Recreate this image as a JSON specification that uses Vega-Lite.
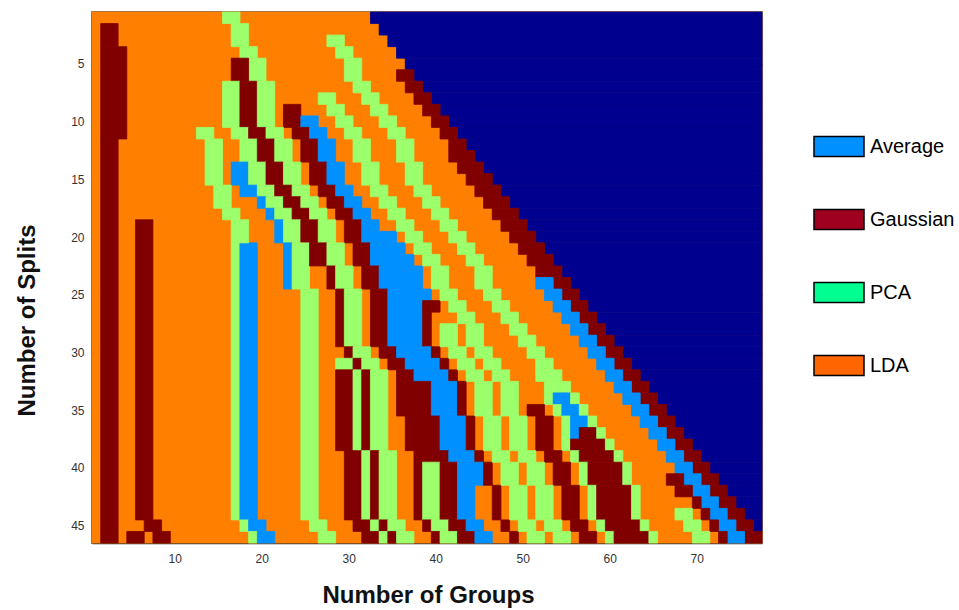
{"$schema":"https://vega.github.io/schema/vega-lite/v6.json","width":670,"height":531,"autosize":{"type":"none"},"padding":{"left":92,"top":12,"right":197,"bottom":67},"background":"white","view":{"stroke":"#444444","strokeWidth":1.5},"layer":[{"data":{"values":[
{"a":0.5,"b":77.5,"c":0.5,"d":46.5,"m":"L"},
{"a":32.5,"b":77.5,"c":0.5,"d":1.5,"m":"N"},{"a":33.5,"b":77.5,"c":1.5,"d":2.5,"m":"N"},{"a":34.5,"b":77.5,"c":2.5,"d":3.5,"m":"N"},{"a":35.5,"b":77.5,"c":3.5,"d":4.5,"m":"N"},{"a":36.5,"b":77.5,"c":4.5,"d":5.5,"m":"N"},{"a":37.5,"b":77.5,"c":5.5,"d":6.5,"m":"N"},{"a":38.5,"b":77.5,"c":6.5,"d":7.5,"m":"N"},{"a":39.5,"b":77.5,"c":7.5,"d":8.5,"m":"N"},{"a":40.5,"b":77.5,"c":8.5,"d":9.5,"m":"N"},{"a":41.5,"b":77.5,"c":9.5,"d":10.5,"m":"N"},{"a":42.5,"b":77.5,"c":10.5,"d":11.5,"m":"N"},{"a":43.5,"b":77.5,"c":11.5,"d":12.5,"m":"N"},{"a":44.5,"b":77.5,"c":12.5,"d":13.5,"m":"N"},{"a":45.5,"b":77.5,"c":13.5,"d":14.5,"m":"N"},{"a":46.5,"b":77.5,"c":14.5,"d":15.5,"m":"N"},{"a":47.5,"b":77.5,"c":15.5,"d":16.5,"m":"N"},{"a":48.5,"b":77.5,"c":16.5,"d":17.5,"m":"N"},{"a":49.5,"b":77.5,"c":17.5,"d":18.5,"m":"N"},{"a":50.5,"b":77.5,"c":18.5,"d":19.5,"m":"N"},{"a":51.5,"b":77.5,"c":19.5,"d":20.5,"m":"N"},{"a":52.5,"b":77.5,"c":20.5,"d":21.5,"m":"N"},{"a":53.5,"b":77.5,"c":21.5,"d":22.5,"m":"N"},{"a":54.5,"b":77.5,"c":22.5,"d":23.5,"m":"N"},{"a":55.5,"b":77.5,"c":23.5,"d":24.5,"m":"N"},{"a":56.5,"b":77.5,"c":24.5,"d":25.5,"m":"N"},{"a":57.5,"b":77.5,"c":25.5,"d":26.5,"m":"N"},{"a":58.5,"b":77.5,"c":26.5,"d":27.5,"m":"N"},{"a":59.5,"b":77.5,"c":27.5,"d":28.5,"m":"N"},{"a":60.5,"b":77.5,"c":28.5,"d":29.5,"m":"N"},{"a":61.5,"b":77.5,"c":29.5,"d":30.5,"m":"N"},{"a":62.5,"b":77.5,"c":30.5,"d":31.5,"m":"N"},{"a":63.5,"b":77.5,"c":31.5,"d":32.5,"m":"N"},{"a":64.5,"b":77.5,"c":32.5,"d":33.5,"m":"N"},{"a":65.5,"b":77.5,"c":33.5,"d":34.5,"m":"N"},{"a":66.5,"b":77.5,"c":34.5,"d":35.5,"m":"N"},{"a":67.5,"b":77.5,"c":35.5,"d":36.5,"m":"N"},{"a":68.5,"b":77.5,"c":36.5,"d":37.5,"m":"N"},{"a":69.5,"b":77.5,"c":37.5,"d":38.5,"m":"N"},{"a":70.5,"b":77.5,"c":38.5,"d":39.5,"m":"N"},{"a":71.5,"b":77.5,"c":39.5,"d":40.5,"m":"N"},{"a":72.5,"b":77.5,"c":40.5,"d":41.5,"m":"N"},{"a":73.5,"b":77.5,"c":41.5,"d":42.5,"m":"N"},{"a":74.5,"b":77.5,"c":42.5,"d":43.5,"m":"N"},{"a":75.5,"b":77.5,"c":43.5,"d":44.5,"m":"N"},{"a":76.5,"b":77.5,"c":44.5,"d":45.5,"m":"N"},
{"a":1.5,"b":3.5,"c":1.5,"d":3.5,"m":"G"},{"a":1.5,"b":4.5,"c":3.5,"d":11.5,"m":"G"},{"a":1.5,"b":3.5,"c":11.5,"d":46.5,"m":"G"},
{"a":5.5,"b":7.5,"c":18.5,"d":44.5,"m":"G"},{"a":6.5,"b":8.5,"c":44.5,"d":45.5,"m":"G"},{"a":4.5,"b":6.5,"c":45.5,"d":46.5,"m":"G"},{"a":7.5,"b":9.5,"c":45.5,"d":46.5,"m":"G"},
{"a":16.5,"b":17.5,"c":20.5,"d":44.5,"m":"P"},{"a":17.5,"b":19.5,"c":20.5,"d":44.5,"m":"A"},{"a":17.5,"b":18.5,"c":44.5,"d":45.5,"m":"P"},{"a":18.5,"b":20.5,"c":44.5,"d":45.5,"m":"A"},{"a":18.5,"b":19.5,"c":45.5,"d":46.5,"m":"P"},{"a":19.5,"b":21.5,"c":45.5,"d":46.5,"m":"A"},
{"a":24.5,"b":26.5,"c":24.5,"d":44.5,"m":"P"},{"a":25.5,"b":27.5,"c":44.5,"d":45.5,"m":"P"},{"a":26.5,"b":28.5,"c":45.5,"d":46.5,"m":"P"},
{"a":15.5,"b":17.5,"c":0.5,"d":1.5,"m":"P"},{"a":16.5,"b":18.5,"c":1.5,"d":3.5,"m":"P"},{"a":17.5,"b":19.5,"c":3.5,"d":4.5,"m":"P"},{"a":18.5,"b":20.5,"c":4.5,"d":6.5,"m":"P"},{"a":16.5,"b":18.5,"c":4.5,"d":6.5,"m":"G"},{"a":15.5,"b":17.5,"c":6.5,"d":10.5,"m":"P"},{"a":17.5,"b":19.5,"c":6.5,"d":10.5,"m":"G"},{"a":19.5,"b":21.5,"c":6.5,"d":10.5,"m":"P"},{"a":22.5,"b":24.5,"c":8.5,"d":10.5,"m":"G"},{"a":24.5,"b":26.5,"c":9.5,"d":10.5,"m":"A"},
{"a":12.5,"b":14.5,"c":10.5,"d":11.5,"m":"P"},{"a":16.5,"b":18.5,"c":10.5,"d":11.5,"m":"P"},{"a":18.5,"b":20.5,"c":10.5,"d":11.5,"m":"G"},{"a":20.5,"b":22.5,"c":10.5,"d":11.5,"m":"P"},{"a":23.5,"b":25.5,"c":10.5,"d":11.5,"m":"G"},{"a":25.5,"b":27.5,"c":10.5,"d":11.5,"m":"A"},
{"a":13.5,"b":15.5,"c":11.5,"d":15.5,"m":"P"},{"a":17.5,"b":19.5,"c":11.5,"d":13.5,"m":"P"},{"a":19.5,"b":21.5,"c":11.5,"d":13.5,"m":"G"},{"a":21.5,"b":23.5,"c":11.5,"d":13.5,"m":"P"},{"a":24.5,"b":26.5,"c":11.5,"d":13.5,"m":"G"},{"a":26.5,"b":28.5,"c":11.5,"d":13.5,"m":"A"},
{"a":16.5,"b":18.5,"c":13.5,"d":15.5,"m":"A"},{"a":18.5,"b":20.5,"c":13.5,"d":15.5,"m":"P"},{"a":20.5,"b":22.5,"c":13.5,"d":15.5,"m":"G"},{"a":22.5,"b":24.5,"c":13.5,"d":15.5,"m":"P"},{"a":25.5,"b":27.5,"c":13.5,"d":15.5,"m":"G"},{"a":27.5,"b":29.5,"c":13.5,"d":15.5,"m":"A"},
{"a":14.5,"b":16.5,"c":15.5,"d":17.5,"m":"P"},{"a":17.5,"b":19.5,"c":15.5,"d":16.5,"m":"A"},{"a":19.5,"b":21.5,"c":15.5,"d":16.5,"m":"P"},{"a":21.5,"b":23.5,"c":15.5,"d":16.5,"m":"G"},{"a":23.5,"b":25.5,"c":15.5,"d":16.5,"m":"P"},{"a":26.5,"b":28.5,"c":15.5,"d":16.5,"m":"G"},{"a":28.5,"b":30.5,"c":15.5,"d":16.5,"m":"A"},
{"a":19.5,"b":20.5,"c":16.5,"d":17.5,"m":"A"},{"a":20.5,"b":22.5,"c":16.5,"d":17.5,"m":"P"},{"a":22.5,"b":24.5,"c":16.5,"d":17.5,"m":"G"},{"a":24.5,"b":26.5,"c":16.5,"d":17.5,"m":"P"},{"a":27.5,"b":29.5,"c":16.5,"d":17.5,"m":"G"},{"a":29.5,"b":31.5,"c":16.5,"d":17.5,"m":"A"},
{"a":15.5,"b":17.5,"c":17.5,"d":18.5,"m":"P"},{"a":20.5,"b":21.5,"c":17.5,"d":18.5,"m":"A"},{"a":21.5,"b":23.5,"c":17.5,"d":18.5,"m":"P"},{"a":23.5,"b":25.5,"c":17.5,"d":18.5,"m":"G"},{"a":25.5,"b":27.5,"c":17.5,"d":18.5,"m":"P"},{"a":28.5,"b":30.5,"c":17.5,"d":18.5,"m":"G"},{"a":30.5,"b":32.5,"c":17.5,"d":18.5,"m":"A"},
{"a":16.5,"b":18.5,"c":18.5,"d":20.5,"m":"P"},{"a":21.5,"b":22.5,"c":18.5,"d":20.5,"m":"A"},{"a":22.5,"b":24.5,"c":18.5,"d":20.5,"m":"P"},{"a":24.5,"b":26.5,"c":18.5,"d":20.5,"m":"G"},{"a":26.5,"b":28.5,"c":18.5,"d":20.5,"m":"P"},{"a":29.5,"b":31.5,"c":18.5,"d":20.5,"m":"G"},{"a":31.5,"b":33.5,"c":18.5,"d":19.5,"m":"A"},{"a":31.5,"b":35.5,"c":19.5,"d":20.5,"m":"A"},
{"a":22.5,"b":23.5,"c":20.5,"d":24.5,"m":"A"},{"a":23.5,"b":25.5,"c":20.5,"d":24.5,"m":"P"},{"a":25.5,"b":27.5,"c":20.5,"d":22.5,"m":"G"},{"a":27.5,"b":29.5,"c":20.5,"d":22.5,"m":"P"},{"a":30.5,"b":32.5,"c":20.5,"d":22.5,"m":"G"},{"a":32.5,"b":36.5,"c":20.5,"d":21.5,"m":"A"},{"a":32.5,"b":37.5,"c":21.5,"d":22.5,"m":"A"},
{"a":27.5,"b":28.5,"c":22.5,"d":24.5,"m":"G"},{"a":28.5,"b":30.5,"c":22.5,"d":24.5,"m":"P"},{"a":31.5,"b":33.5,"c":22.5,"d":24.5,"m":"G"},{"a":33.5,"b":38.5,"c":22.5,"d":24.5,"m":"A"},
{"a":28.5,"b":29.5,"c":24.5,"d":29.5,"m":"G"},{"a":29.5,"b":31.5,"c":24.5,"d":29.5,"m":"P"},{"a":32.5,"b":34.5,"c":24.5,"d":29.5,"m":"G"},{"a":34.5,"b":39.5,"c":24.5,"d":25.5,"m":"A"},{"a":34.5,"b":38.5,"c":25.5,"d":29.5,"m":"A"},{"a":38.5,"b":40.5,"c":25.5,"d":26.5,"m":"G"},{"a":38.5,"b":39.5,"c":26.5,"d":29.5,"m":"G"},
{"a":29.5,"b":30.5,"c":29.5,"d":30.5,"m":"G"},{"a":30.5,"b":32.5,"c":29.5,"d":30.5,"m":"P"},{"a":33.5,"b":35.5,"c":29.5,"d":30.5,"m":"G"},{"a":35.5,"b":39.5,"c":29.5,"d":30.5,"m":"A"},{"a":39.5,"b":40.5,"c":29.5,"d":30.5,"m":"G"},
{"a":28.5,"b":30.5,"c":30.5,"d":31.5,"m":"P"},{"a":30.5,"b":31.5,"c":30.5,"d":31.5,"m":"G"},{"a":31.5,"b":33.5,"c":30.5,"d":31.5,"m":"P"},{"a":34.5,"b":36.5,"c":30.5,"d":31.5,"m":"G"},{"a":36.5,"b":40.5,"c":30.5,"d":31.5,"m":"A"},{"a":40.5,"b":41.5,"c":30.5,"d":31.5,"m":"G"},
{"a":28.5,"b":30.5,"c":31.5,"d":38.5,"m":"G"},{"a":30.5,"b":31.5,"c":31.5,"d":38.5,"m":"P"},{"a":31.5,"b":32.5,"c":31.5,"d":38.5,"m":"G"},{"a":32.5,"b":34.5,"c":31.5,"d":38.5,"m":"P"},
{"a":35.5,"b":37.5,"c":31.5,"d":32.5,"m":"G"},{"a":37.5,"b":41.5,"c":31.5,"d":32.5,"m":"A"},{"a":41.5,"b":42.5,"c":31.5,"d":32.5,"m":"G"},
{"a":35.5,"b":39.5,"c":32.5,"d":35.5,"m":"G"},{"a":39.5,"b":42.5,"c":32.5,"d":35.5,"m":"A"},{"a":42.5,"b":43.5,"c":32.5,"d":35.5,"m":"G"},
{"a":36.5,"b":40.5,"c":35.5,"d":38.5,"m":"G"},{"a":40.5,"b":43.5,"c":35.5,"d":38.5,"m":"A"},{"a":43.5,"b":44.5,"c":35.5,"d":38.5,"m":"G"},
{"a":29.5,"b":31.5,"c":38.5,"d":44.5,"m":"G"},{"a":31.5,"b":32.5,"c":38.5,"d":44.5,"m":"P"},{"a":32.5,"b":33.5,"c":38.5,"d":44.5,"m":"G"},{"a":33.5,"b":35.5,"c":38.5,"d":44.5,"m":"P"},
{"a":30.5,"b":32.5,"c":44.5,"d":45.5,"m":"G"},{"a":32.5,"b":33.5,"c":44.5,"d":45.5,"m":"P"},{"a":33.5,"b":34.5,"c":44.5,"d":45.5,"m":"G"},{"a":34.5,"b":36.5,"c":44.5,"d":45.5,"m":"P"},
{"a":31.5,"b":33.5,"c":45.5,"d":46.5,"m":"G"},{"a":33.5,"b":34.5,"c":45.5,"d":46.5,"m":"P"},{"a":34.5,"b":35.5,"c":45.5,"d":46.5,"m":"G"},{"a":35.5,"b":37.5,"c":45.5,"d":46.5,"m":"P"},
{"a":37.5,"b":41.5,"c":38.5,"d":39.5,"m":"G"},{"a":41.5,"b":44.5,"c":38.5,"d":39.5,"m":"A"},{"a":44.5,"b":45.5,"c":38.5,"d":39.5,"m":"G"},
{"a":37.5,"b":38.5,"c":39.5,"d":44.5,"m":"G"},{"a":38.5,"b":40.5,"c":39.5,"d":44.5,"m":"P"},{"a":40.5,"b":42.5,"c":39.5,"d":44.5,"m":"G"},{"a":42.5,"b":45.5,"c":39.5,"d":41.5,"m":"A"},{"a":45.5,"b":46.5,"c":39.5,"d":41.5,"m":"G"},{"a":42.5,"b":44.5,"c":41.5,"d":44.5,"m":"A"},{"a":46.5,"b":47.5,"c":41.5,"d":44.5,"m":"G"},
{"a":38.5,"b":39.5,"c":44.5,"d":45.5,"m":"G"},{"a":39.5,"b":41.5,"c":44.5,"d":45.5,"m":"P"},{"a":41.5,"b":43.5,"c":44.5,"d":45.5,"m":"G"},{"a":43.5,"b":45.5,"c":44.5,"d":45.5,"m":"A"},{"a":47.5,"b":48.5,"c":44.5,"d":45.5,"m":"G"},
{"a":39.5,"b":40.5,"c":45.5,"d":46.5,"m":"G"},{"a":40.5,"b":42.5,"c":45.5,"d":46.5,"m":"P"},{"a":42.5,"b":44.5,"c":45.5,"d":46.5,"m":"G"},{"a":44.5,"b":46.5,"c":45.5,"d":46.5,"m":"A"},{"a":48.5,"b":49.5,"c":45.5,"d":46.5,"m":"G"},
{"a":27.5,"b":29.5,"c":2.5,"d":3.5,"m":"P"},{"a":28.5,"b":30.5,"c":3.5,"d":4.5,"m":"P"},{"a":29.5,"b":31.5,"c":4.5,"d":6.5,"m":"P"},{"a":30.5,"b":32.5,"c":6.5,"d":7.5,"m":"P"},{"a":31.5,"b":33.5,"c":7.5,"d":8.5,"m":"P"},{"a":32.5,"b":34.5,"c":8.5,"d":9.5,"m":"P"},{"a":33.5,"b":35.5,"c":9.5,"d":10.5,"m":"P"},{"a":34.5,"b":36.5,"c":10.5,"d":11.5,"m":"P"},{"a":35.5,"b":37.5,"c":11.5,"d":13.5,"m":"P"},{"a":36.5,"b":38.5,"c":13.5,"d":15.5,"m":"P"},{"a":37.5,"b":39.5,"c":15.5,"d":16.5,"m":"P"},{"a":38.5,"b":40.5,"c":16.5,"d":17.5,"m":"P"},{"a":39.5,"b":41.5,"c":17.5,"d":18.5,"m":"P"},{"a":40.5,"b":42.5,"c":18.5,"d":19.5,"m":"P"},{"a":41.5,"b":43.5,"c":19.5,"d":20.5,"m":"P"},{"a":42.5,"b":44.5,"c":20.5,"d":21.5,"m":"P"},{"a":43.5,"b":45.5,"c":21.5,"d":22.5,"m":"P"},{"a":44.5,"b":46.5,"c":22.5,"d":24.5,"m":"P"},{"a":45.5,"b":47.5,"c":24.5,"d":25.5,"m":"P"},{"a":46.5,"b":48.5,"c":25.5,"d":26.5,"m":"P"},{"a":47.5,"b":49.5,"c":26.5,"d":27.5,"m":"P"},{"a":48.5,"b":50.5,"c":27.5,"d":28.5,"m":"P"},{"a":49.5,"b":51.5,"c":28.5,"d":29.5,"m":"P"},{"a":50.5,"b":52.5,"c":29.5,"d":30.5,"m":"P"},{"a":51.5,"b":53.5,"c":30.5,"d":31.5,"m":"P"},{"a":51.5,"b":54.5,"c":31.5,"d":32.5,"m":"P"},{"a":52.5,"b":55.5,"c":32.5,"d":33.5,"m":"P"},
{"a":52.5,"b":53.5,"c":33.5,"d":34.5,"m":"P"},{"a":53.5,"b":55.5,"c":33.5,"d":34.5,"m":"A"},{"a":55.5,"b":56.5,"c":33.5,"d":34.5,"m":"P"},
{"a":50.5,"b":52.5,"c":34.5,"d":35.5,"m":"G"},{"a":53.5,"b":54.5,"c":34.5,"d":35.5,"m":"P"},{"a":54.5,"b":56.5,"c":34.5,"d":35.5,"m":"A"},{"a":56.5,"b":57.5,"c":34.5,"d":35.5,"m":"P"},
{"a":51.5,"b":53.5,"c":35.5,"d":38.5,"m":"G"},{"a":54.5,"b":55.5,"c":35.5,"d":38.5,"m":"P"},{"a":55.5,"b":57.5,"c":35.5,"d":36.5,"m":"A"},{"a":57.5,"b":58.5,"c":35.5,"d":36.5,"m":"P"},
{"a":55.5,"b":56.5,"c":36.5,"d":37.5,"m":"A"},{"a":56.5,"b":58.5,"c":36.5,"d":37.5,"m":"G"},{"a":58.5,"b":59.5,"c":36.5,"d":37.5,"m":"P"},
{"a":55.5,"b":59.5,"c":37.5,"d":38.5,"m":"G"},{"a":59.5,"b":60.5,"c":37.5,"d":38.5,"m":"P"},
{"a":52.5,"b":54.5,"c":38.5,"d":39.5,"m":"G"},{"a":55.5,"b":56.5,"c":38.5,"d":39.5,"m":"P"},{"a":56.5,"b":60.5,"c":38.5,"d":39.5,"m":"G"},{"a":60.5,"b":61.5,"c":38.5,"d":39.5,"m":"P"},
{"a":53.5,"b":55.5,"c":39.5,"d":41.5,"m":"G"},{"a":56.5,"b":57.5,"c":39.5,"d":41.5,"m":"P"},{"a":57.5,"b":61.5,"c":39.5,"d":41.5,"m":"G"},{"a":61.5,"b":62.5,"c":39.5,"d":41.5,"m":"P"},
{"a":54.5,"b":56.5,"c":41.5,"d":44.5,"m":"G"},{"a":57.5,"b":58.5,"c":41.5,"d":44.5,"m":"P"},{"a":58.5,"b":62.5,"c":41.5,"d":44.5,"m":"G"},{"a":62.5,"b":63.5,"c":41.5,"d":44.5,"m":"P"},
{"a":55.5,"b":57.5,"c":44.5,"d":45.5,"m":"G"},{"a":58.5,"b":59.5,"c":44.5,"d":45.5,"m":"P"},{"a":59.5,"b":63.5,"c":44.5,"d":45.5,"m":"G"},{"a":63.5,"b":64.5,"c":44.5,"d":45.5,"m":"P"},
{"a":56.5,"b":58.5,"c":45.5,"d":46.5,"m":"G"},{"a":59.5,"b":60.5,"c":45.5,"d":46.5,"m":"P"},{"a":60.5,"b":64.5,"c":45.5,"d":46.5,"m":"G"},{"a":64.5,"b":65.5,"c":45.5,"d":46.5,"m":"P"},
{"a":26.5,"b":28.5,"c":7.5,"d":8.5,"m":"P"},{"a":27.5,"b":29.5,"c":8.5,"d":9.5,"m":"P"},{"a":28.5,"b":30.5,"c":9.5,"d":10.5,"m":"P"},{"a":29.5,"b":31.5,"c":10.5,"d":11.5,"m":"P"},{"a":30.5,"b":32.5,"c":11.5,"d":13.5,"m":"P"},{"a":31.5,"b":33.5,"c":13.5,"d":15.5,"m":"P"},{"a":32.5,"b":34.5,"c":15.5,"d":16.5,"m":"P"},{"a":33.5,"b":35.5,"c":16.5,"d":17.5,"m":"P"},{"a":34.5,"b":36.5,"c":17.5,"d":18.5,"m":"P"},{"a":35.5,"b":37.5,"c":18.5,"d":19.5,"m":"P"},{"a":36.5,"b":38.5,"c":19.5,"d":20.5,"m":"P"},{"a":37.5,"b":39.5,"c":20.5,"d":21.5,"m":"P"},{"a":38.5,"b":40.5,"c":21.5,"d":22.5,"m":"P"},{"a":39.5,"b":41.5,"c":22.5,"d":24.5,"m":"P"},{"a":40.5,"b":42.5,"c":24.5,"d":25.5,"m":"P"},{"a":41.5,"b":43.5,"c":25.5,"d":26.5,"m":"P"},{"a":42.5,"b":44.5,"c":26.5,"d":27.5,"m":"P"},{"a":43.5,"b":45.5,"c":27.5,"d":29.5,"m":"P"},{"a":44.5,"b":46.5,"c":29.5,"d":30.5,"m":"P"},{"a":45.5,"b":47.5,"c":30.5,"d":31.5,"m":"P"},{"a":46.5,"b":48.5,"c":31.5,"d":32.5,"m":"P"},{"a":47.5,"b":49.5,"c":32.5,"d":35.5,"m":"P"},{"a":48.5,"b":50.5,"c":35.5,"d":38.5,"m":"P"},{"a":49.5,"b":51.5,"c":38.5,"d":39.5,"m":"P"},{"a":50.5,"b":52.5,"c":39.5,"d":41.5,"m":"P"},{"a":51.5,"b":53.5,"c":41.5,"d":44.5,"m":"P"},{"a":52.5,"b":54.5,"c":44.5,"d":45.5,"m":"P"},{"a":53.5,"b":55.5,"c":45.5,"d":46.5,"m":"P"},
{"a":40.5,"b":42.5,"c":27.5,"d":29.5,"m":"P"},{"a":41.5,"b":43.5,"c":29.5,"d":30.5,"m":"P"},{"a":42.5,"b":44.5,"c":30.5,"d":31.5,"m":"P"},{"a":43.5,"b":45.5,"c":31.5,"d":32.5,"m":"P"},{"a":44.5,"b":46.5,"c":32.5,"d":35.5,"m":"P"},{"a":45.5,"b":47.5,"c":35.5,"d":38.5,"m":"P"},{"a":46.5,"b":48.5,"c":38.5,"d":39.5,"m":"P"},{"a":47.5,"b":49.5,"c":39.5,"d":41.5,"m":"P"},{"a":48.5,"b":50.5,"c":41.5,"d":44.5,"m":"P"},{"a":49.5,"b":51.5,"c":44.5,"d":45.5,"m":"P"},{"a":50.5,"b":52.5,"c":45.5,"d":46.5,"m":"P"},
{"a":35.5,"b":37.5,"c":5.5,"d":6.5,"m":"G"},{"a":36.5,"b":38.5,"c":6.5,"d":7.5,"m":"G"},{"a":37.5,"b":39.5,"c":7.5,"d":8.5,"m":"G"},{"a":38.5,"b":40.5,"c":8.5,"d":9.5,"m":"G"},{"a":39.5,"b":41.5,"c":9.5,"d":10.5,"m":"G"},{"a":40.5,"b":42.5,"c":10.5,"d":11.5,"m":"G"},{"a":41.5,"b":43.5,"c":11.5,"d":12.5,"m":"G"},{"a":41.5,"b":44.5,"c":12.5,"d":13.5,"m":"G"},{"a":42.5,"b":45.5,"c":13.5,"d":14.5,"m":"G"},{"a":43.5,"b":46.5,"c":14.5,"d":15.5,"m":"G"},{"a":44.5,"b":47.5,"c":15.5,"d":16.5,"m":"G"},{"a":45.5,"b":48.5,"c":16.5,"d":17.5,"m":"G"},{"a":46.5,"b":49.5,"c":17.5,"d":18.5,"m":"G"},{"a":47.5,"b":50.5,"c":18.5,"d":19.5,"m":"G"},{"a":48.5,"b":51.5,"c":19.5,"d":20.5,"m":"G"},{"a":49.5,"b":52.5,"c":20.5,"d":21.5,"m":"G"},{"a":50.5,"b":53.5,"c":21.5,"d":22.5,"m":"G"},{"a":51.5,"b":54.5,"c":22.5,"d":23.5,"m":"G"},
{"a":53.5,"b":55.5,"c":23.5,"d":24.5,"m":"G"},{"a":51.5,"b":53.5,"c":23.5,"d":24.5,"m":"A"},{"a":54.5,"b":56.5,"c":24.5,"d":25.5,"m":"G"},{"a":52.5,"b":54.5,"c":24.5,"d":25.5,"m":"A"},{"a":55.5,"b":57.5,"c":25.5,"d":26.5,"m":"G"},{"a":53.5,"b":55.5,"c":25.5,"d":26.5,"m":"A"},{"a":56.5,"b":58.5,"c":26.5,"d":27.5,"m":"G"},{"a":54.5,"b":56.5,"c":26.5,"d":27.5,"m":"A"},{"a":57.5,"b":59.5,"c":27.5,"d":28.5,"m":"G"},{"a":55.5,"b":57.5,"c":27.5,"d":28.5,"m":"A"},{"a":58.5,"b":60.5,"c":28.5,"d":29.5,"m":"G"},{"a":56.5,"b":58.5,"c":28.5,"d":29.5,"m":"A"},{"a":59.5,"b":61.5,"c":29.5,"d":30.5,"m":"G"},{"a":57.5,"b":59.5,"c":29.5,"d":30.5,"m":"A"},{"a":60.5,"b":62.5,"c":30.5,"d":31.5,"m":"G"},{"a":58.5,"b":60.5,"c":30.5,"d":31.5,"m":"A"},{"a":61.5,"b":63.5,"c":31.5,"d":32.5,"m":"G"},{"a":59.5,"b":61.5,"c":31.5,"d":32.5,"m":"A"},{"a":62.5,"b":64.5,"c":32.5,"d":33.5,"m":"G"},{"a":60.5,"b":62.5,"c":32.5,"d":33.5,"m":"A"},{"a":63.5,"b":65.5,"c":33.5,"d":34.5,"m":"G"},{"a":61.5,"b":63.5,"c":33.5,"d":34.5,"m":"A"},{"a":64.5,"b":66.5,"c":34.5,"d":35.5,"m":"G"},{"a":62.5,"b":64.5,"c":34.5,"d":35.5,"m":"A"},{"a":65.5,"b":67.5,"c":35.5,"d":36.5,"m":"G"},{"a":63.5,"b":65.5,"c":35.5,"d":36.5,"m":"A"},{"a":66.5,"b":68.5,"c":36.5,"d":37.5,"m":"G"},{"a":64.5,"b":66.5,"c":36.5,"d":37.5,"m":"A"},{"a":67.5,"b":69.5,"c":37.5,"d":38.5,"m":"G"},{"a":65.5,"b":67.5,"c":37.5,"d":38.5,"m":"A"},{"a":68.5,"b":70.5,"c":38.5,"d":39.5,"m":"G"},{"a":66.5,"b":68.5,"c":38.5,"d":39.5,"m":"A"},{"a":69.5,"b":71.5,"c":39.5,"d":40.5,"m":"G"},{"a":67.5,"b":69.5,"c":39.5,"d":40.5,"m":"A"},{"a":70.5,"b":72.5,"c":40.5,"d":41.5,"m":"G"},{"a":68.5,"b":70.5,"c":40.5,"d":41.5,"m":"A"},{"a":66.5,"b":68.5,"c":40.5,"d":41.5,"m":"G"},{"a":71.5,"b":73.5,"c":41.5,"d":42.5,"m":"G"},{"a":69.5,"b":71.5,"c":41.5,"d":42.5,"m":"A"},{"a":67.5,"b":69.5,"c":41.5,"d":42.5,"m":"G"},{"a":72.5,"b":74.5,"c":42.5,"d":43.5,"m":"G"},{"a":70.5,"b":72.5,"c":42.5,"d":43.5,"m":"A"},{"a":69.5,"b":70.5,"c":42.5,"d":43.5,"m":"G"},{"a":73.5,"b":75.5,"c":43.5,"d":44.5,"m":"G"},{"a":71.5,"b":73.5,"c":43.5,"d":44.5,"m":"A"},{"a":70.5,"b":71.5,"c":43.5,"d":44.5,"m":"G"},{"a":67.5,"b":69.5,"c":43.5,"d":44.5,"m":"P"},{"a":74.5,"b":76.5,"c":44.5,"d":45.5,"m":"G"},{"a":72.5,"b":74.5,"c":44.5,"d":45.5,"m":"A"},{"a":71.5,"b":72.5,"c":44.5,"d":45.5,"m":"G"},{"a":68.5,"b":70.5,"c":44.5,"d":45.5,"m":"P"},{"a":75.5,"b":77.5,"c":45.5,"d":46.5,"m":"G"},{"a":73.5,"b":75.5,"c":45.5,"d":46.5,"m":"A"},{"a":72.5,"b":73.5,"c":45.5,"d":46.5,"m":"G"},{"a":69.5,"b":71.5,"c":45.5,"d":46.5,"m":"P"}
]},"mark":{"type":"rect","strokeWidth":0.8},"encoding":{"x":{"field":"a","type":"quantitative","scale":{"domain":[0.5,77.5],"nice":false,"zero":false},"axis":{"values":[10,20,30,40,50,60,70],"grid":false,"title":"Number of Groups","titleFont":"Liberation Sans","titleFontSize":24,"titleFontWeight":"bold","titleColor":"#111111","titleX":336,"titleY":59,"titleBaseline":"alphabetic","labelFont":"Liberation Sans","labelFontSize":12,"labelColor":"#333333","labelPadding":15,"tickColor":"#000000","tickSize":-5,"domainColor":"#333333","domainWidth":1.5}},"x2":{"field":"b"},"y":{"field":"c","type":"quantitative","scale":{"domain":[0.5,46.5],"nice":false,"zero":false,"reverse":true},"axis":{"values":[5,10,15,20,25,30,35,40,45],"grid":false,"title":"Number of Splits","titleFont":"Liberation Sans","titleFontSize":24,"titleFontWeight":"bold","titleColor":"#111111","titleX":-58,"titleY":308,"titleBaseline":"alphabetic","labelFont":"Liberation Sans","labelFontSize":12,"labelColor":"#333333","labelPadding":15,"tickColor":"#000000","tickSize":-7,"domainColor":"#444444","domainWidth":1.5}},"y2":{"field":"d"},"color":{"field":"m","type":"nominal","legend":null,"scale":{"domain":["N","A","P","L","G"],"range":["#00008F","#0090FF","#9CFF6C","#FF8000","#800000"]}},"stroke":{"field":"m","type":"nominal","legend":null,"scale":{"domain":["N","A","P","L","G"],"range":["#00008F","#0090FF","#9CFF6C","#FF8000","#800000"]}}}},
{"data":{"values":[{"a":0.5,"b":0.5,"c":0.5,"d":0.5,"n":"Average"},{"a":0.5,"b":0.5,"c":0.5,"d":0.5,"n":"Gaussian"},{"a":0.5,"b":0.5,"c":0.5,"d":0.5,"n":"PCA"},{"a":0.5,"b":0.5,"c":0.5,"d":0.5,"n":"LDA"}]},"mark":{"type":"rect"},"encoding":{"x":{"field":"a","type":"quantitative","axis":{"orient":"top","values":[10,20,30,40,50,60,70],"labels":false,"title":null,"domain":false,"grid":false,"tickColor":"#000000","tickSize":-4}},"x2":{"field":"b"},"y":{"field":"c","type":"quantitative","axis":{"orient":"right","values":[5,10,15,20,25,30,35,40,45],"labels":false,"title":null,"domain":false,"grid":false,"tickColor":"#000000","tickSize":-7}},"y2":{"field":"d"},"fill":{"field":"n","type":"nominal","scale":{"domain":["Average","Gaussian","PCA","LDA"],"range":["#0090FF","#A00020","#00FF90","#FF6600"]},"legend":{"orient":"none","legendX":721,"legendY":108.5,"title":null,"padding":0,"rowPadding":34,"symbolType":"M-1,-0.4H1V0.4H-1Z","symbolSize":2500,"symbolStrokeColor":"#000000","symbolStrokeWidth":1.5,"symbolOpacity":1,"labelFont":"Liberation Sans","labelFontSize":20,"labelColor":"#000000","labelOffset":5}}}}],
"resolve":{"scale":{"fill":"independent"},"axis":{"x":"independent","y":"independent"}}}
